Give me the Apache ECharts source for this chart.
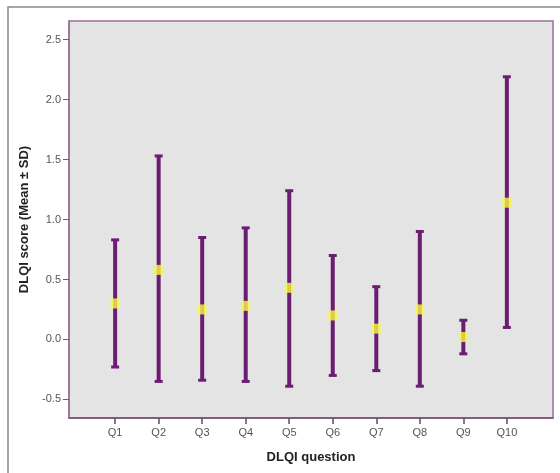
<!DOCTYPE html>
<html>
<head>
<meta charset="utf-8">
<script src="https://cdn.jsdelivr.net/npm/echarts@6/dist/echarts.min.js"></script>
<style>
html, body { margin: 0; padding: 0; background: #fff; }
#chart { width: 560px; height: 473px; }
</style>
</head>
<body>
<div id="chart"></div>
<script>
// DLQI questions and their mean ± SD
const questions = ['Q1', 'Q2', 'Q3', 'Q4', 'Q5', 'Q6', 'Q7', 'Q8', 'Q9', 'Q10'];
const means = [0.30, 0.58, 0.25, 0.28, 0.43, 0.20, 0.09, 0.25, 0.02, 1.14];
const upper = [0.83, 1.53, 0.85, 0.93, 1.24, 0.70, 0.44, 0.90, 0.16, 2.19];
const lower = [-0.23, -0.35, -0.34, -0.35, -0.39, -0.30, -0.26, -0.39, -0.12, 0.10];
const yTicks = [-0.5, 0.0, 0.5, 1.0, 1.5, 2.0, 2.5];

const positions = questions.map((q, i) => i + 1);

function renderBar(params, api) {
    const x = api.value(0);
    const hi = api.coord([x, api.value(1)]);
    const lo = api.coord([x, api.value(2)]);
    const capW = 4;
    const capStyle = { stroke: '#6b1d72', lineWidth: 3 };
    return {
        type: 'group',
        children: [
            { type: 'line', shape: { x1: hi[0], y1: hi[1], x2: lo[0], y2: lo[1] }, style: { stroke: '#6b1d72', lineWidth: 4 } },
            { type: 'line', shape: { x1: hi[0] - capW, y1: hi[1], x2: hi[0] + capW, y2: hi[1] }, style: capStyle },
            { type: 'line', shape: { x1: lo[0] - capW, y1: lo[1], x2: lo[0] + capW, y2: lo[1] }, style: capStyle }
        ]
    };
}

const chart = echarts.init(document.getElementById('chart'));
chart.setOption({
    animation: false,
    backgroundColor: '#ffffff',
    graphic: [
        {
            type: 'rect',
            shape: { x: 8, y: 7, width: 600, height: 500 },
            style: { fill: 'none', stroke: '#8a8a8a', lineWidth: 1.5 },
            z: -10
        }
    ],
    grid: {
        left: 69,
        top: 21,
        right: 7,
        bottom: 55,
        show: true,
        backgroundColor: '#e4e4e4',
        borderColor: '#9a6f9a',
        borderWidth: 1.5
    },
    xAxis: {
        type: 'value',
        min: -0.06,
        max: 11.06,
        name: 'DLQI question',
        nameLocation: 'middle',
        nameGap: 33,
        nameTextStyle: { fontFamily: 'Liberation Sans', fontWeight: 'bold', fontSize: 13, color: '#222' },
        axisLine: { show: true, onZero: false, lineStyle: { color: '#7a4a7a', width: 1.5 } },
        axisTick: { show: true, customValues: positions, length: 6, lineStyle: { color: '#555', width: 1.5 } },
        axisLabel: {
            customValues: positions,
            formatter: v => questions[Math.round(v) - 1] || '',
            margin: 9,
            fontFamily: 'Liberation Sans',
            fontSize: 11,
            color: '#555'
        },
        splitLine: { show: false }
    },
    yAxis: {
        type: 'value',
        min: -0.655,
        max: 2.655,
        name: 'DLQI score (Mean ± SD)',
        nameLocation: 'middle',
        nameGap: 34,
        nameTextStyle: { fontFamily: 'Liberation Sans', fontWeight: 'bold', fontSize: 13, color: '#222' },
        axisLine: { show: true, onZero: false, lineStyle: { color: '#9a6f9a', width: 1.5 } },
        axisTick: { show: true, customValues: yTicks, length: 6, lineStyle: { color: '#666', width: 1 } },
        axisLabel: {
            customValues: yTicks,
            formatter: v => v.toFixed(1),
            margin: 8,
            fontFamily: 'Liberation Sans',
            fontSize: 11,
            color: '#555'
        },
        splitLine: { show: false }
    },
    series: [
        {
            type: 'custom',
            renderItem: renderBar,
            data: positions.map((p, i) => [p, upper[i], lower[i]]),
            encode: { x: 0, y: [1, 2] },
            z: 2
        },
        {
            type: 'scatter',
            symbol: 'rect',
            symbolSize: [9, 10],
            itemStyle: { color: '#f7f745' },
            data: positions.map((p, i) => [p, means[i]]),
            z: 3
        }
    ]
});
</script>
</body>
</html>
